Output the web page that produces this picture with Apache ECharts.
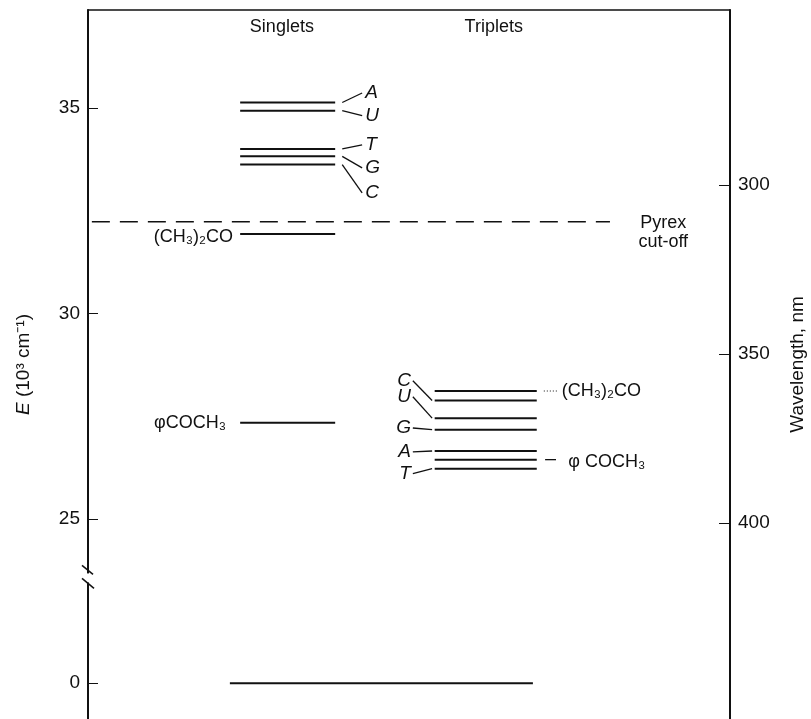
<!DOCTYPE html>
<html>
<head>
<meta charset="utf-8">
<script src="https://cdn.jsdelivr.net/npm/echarts@6/dist/echarts.min.js"></script>
<style>
  html, body { margin: 0; padding: 0; background: #fff; }
  #chart { width: 811px; height: 719px; }
</style>
</head>
<body>
<div id="chart"></div>
<script>
// energy levels, 10^3 cm^-1
const singletNames = ['A', 'U', 'T', 'G', 'C'];
const singletE = [35.13, 34.93, 34.0, 33.82, 33.62];
const singletLabelE = [35.36, 34.81, 34.1, 33.54, 32.93];
const tripletNames = ['C', 'U', 'G', 'A', 'T'];
const tripletE = [27.88, 27.45, 27.17, 26.65, 26.22];
const tripletLabelE = [28.36, 27.97, 27.21, 26.63, 26.1];
const acetoneE = [31.93, 28.11];       // singlet, triplet
const acetophenoneE = [27.34, 26.44];  // singlet, triplet
const pyrexE = 32.23;
const groundE = 0;
const leftTicks = [0, 25, 30, 35];
const rightTicks = [300, 350, 400];

// axis break: values below it are drawn shifted up
const SHIFT = 21;
const plotE = e => (e < 20 ? e + SHIFT : e);

const FONT = '"Liberation Sans", Arial, sans-serif';
const ink = '#111';

// x positions of the columns (0..100 across the frame)
const singletX = [23.7, 38.5];
const tripletX = [54.0, 69.9];
const groundX = [22.1, 69.3];

const levels = [];
singletE.forEach(e => levels.push([singletX[0], singletX[1], e]));
tripletE.forEach(e => levels.push([tripletX[0], tripletX[1], e]));
levels.push([singletX[0], singletX[1], acetoneE[0]]);
levels.push([tripletX[0], tripletX[1], acetoneE[1]]);
levels.push([singletX[0], singletX[1], acetophenoneE[0]]);
levels.push([tripletX[0], tripletX[1], acetophenoneE[1]]);
levels.push([groundX[0], groundX[1], plotE(groundE)]);

// connectors: [x0, e0, x1, e1, dotted]
const connectors = [];
singletE.forEach((e, i) => connectors.push([39.6, e, 42.7, singletLabelE[i], 0]));
tripletE.forEach((e, i) => connectors.push([50.6, tripletLabelE[i], 53.6, e, 0]));
connectors.push([71.0, acetoneE[1], 73.2, acetoneE[1], 1]);
connectors.push([71.2, acetophenoneE[1], 72.9, acetophenoneE[1], 0]);

// text labels
const labels = [];
singletNames.forEach((n, i) => labels.push({ x: 43.2, e: singletLabelE[i], text: n, align: 'left', italic: true, size: 19 }));
tripletNames.forEach((n, i) => labels.push({ x: 50.3, e: tripletLabelE[i], text: n, align: 'right', italic: true, size: 19 }));
labels.push({ x: 22.6, e: acetoneE[0] - 0.08, text: '(CH\u2083)\u2082CO', align: 'right' });
labels.push({ x: 21.5, e: acetophenoneE[0], text: '\u03c6COCH\u2083', align: 'right' });
labels.push({ x: 73.8, e: acetoneE[1], text: '(CH\u2083)\u2082CO', align: 'left' });
labels.push({ x: 74.8, e: acetophenoneE[1] - 0.05, text: '\u03c6 COCH\u2083', align: 'left' });
labels.push({ x: 30.2, e: 36.97, text: 'Singlets', align: 'center' });
labels.push({ x: 63.2, e: 36.97, text: 'Triplets', align: 'center' });
labels.push({ x: 89.6, e: 32.2, text: 'Pyrex', align: 'center' });
labels.push({ x: 89.6, e: 31.74, text: 'cut-off', align: 'center' });

const chart = echarts.init(document.getElementById('chart'));

const option = {
  animation: false,
  backgroundColor: '#fff',
  grid: { left: 88, right: 81, top: 10, bottom: 0, outerBoundsMode: 'none', containLabel: false },
  xAxis: {
    type: 'value', min: 0, max: 100, position: 'top',
    axisLine: { show: true, lineStyle: { color: ink, width: 1.5 } },
    axisTick: { show: false }, axisLabel: { show: false }, splitLine: { show: false }
  },
  yAxis: [
    {
      type: 'value', min: 20.13, max: 37.38, position: 'left',
      name: '{i|E} (10\u00b3 cm\u207b\u00b9)',
      nameLocation: 'middle', nameGap: 55, nameRotate: 90,
      nameTextStyle: {
        color: ink, fontSize: 19, fontFamily: FONT,
        rich: { i: { fontStyle: 'italic', fontSize: 19, fontFamily: FONT, color: ink } }
      },
      axisLine: { show: true, lineStyle: { color: ink, width: 2 } },
      axisTick: { show: true, inside: true, length: 10, customValues: leftTicks.map(plotE), lineStyle: { color: ink, width: 1 } },
      axisLabel: {
        customValues: leftTicks.map(plotE), margin: 8,
        color: ink, fontSize: 19, fontFamily: FONT,
        formatter: v => (v === plotE(0) ? '0' : String(v))
      },
      splitLine: { show: false }
    },
    {
      type: 'value', min: 248.2, max: 458, inverse: true, position: 'right',
      name: 'Wavelength, nm',
      nameLocation: 'middle', nameGap: 58, nameRotate: 90,
      nameTextStyle: { color: ink, fontSize: 19, fontFamily: FONT },
      axisLine: { show: true, lineStyle: { color: ink, width: 2 } },
      axisTick: { show: true, inside: true, length: 11, customValues: rightTicks, lineStyle: { color: ink, width: 1 } },
      axisLabel: { customValues: rightTicks, margin: 8, color: ink, fontSize: 19, fontFamily: FONT },
      splitLine: { show: false }
    }
  ],
  series: [
    {
      type: 'custom', name: 'levels', silent: true,
      data: levels,
      renderItem: (params, api) => {
        const a = api.coord([api.value(0), api.value(2)]);
        const b = api.coord([api.value(1), api.value(2)]);
        return { type: 'line', shape: { x1: a[0], y1: a[1], x2: b[0], y2: b[1] }, style: { stroke: ink, lineWidth: 2 } };
      }
    },
    {
      type: 'custom', name: 'pyrex', silent: true,
      data: [[0.6, 81.3, pyrexE]],
      renderItem: (params, api) => {
        const a = api.coord([api.value(0), api.value(2)]);
        const b = api.coord([api.value(1), api.value(2)]);
        return { type: 'line', shape: { x1: a[0], y1: a[1], x2: b[0], y2: b[1] }, style: { stroke: ink, lineWidth: 1.5, lineDash: [18, 10] } };
      }
    },
    {
      type: 'custom', name: 'connectors', silent: true,
      data: connectors,
      renderItem: (params, api) => {
        const a = api.coord([api.value(0), api.value(1)]);
        const b = api.coord([api.value(2), api.value(3)]);
        const dotted = api.value(4) === 1;
        return { type: 'line', shape: { x1: a[0], y1: a[1], x2: b[0], y2: b[1] }, style: { stroke: ink, lineWidth: dotted ? 1 : 1.3, lineDash: dotted ? [1, 2] : null } };
      }
    },
    {
      type: 'custom', name: 'labels', silent: true,
      data: labels.map(l => [l.x, l.e]),
      renderItem: (params, api) => {
        const l = labels[params.dataIndex];
        const p = api.coord([api.value(0), api.value(1)]);
        return {
          type: 'text', x: p[0], y: p[1],
          style: {
            text: l.text, fill: ink, fontSize: l.size || 18, fontFamily: FONT,
            fontStyle: l.italic ? 'italic' : 'normal',
            align: l.align, verticalAlign: 'middle'
          }
        };
      }
    },
    {
      // axis break marks on the left axis
      type: 'custom', name: 'break', silent: true,
      data: [[0, 23.55]],
      renderItem: (params, api) => {
        const p = api.coord([api.value(0), api.value(1)]);
        return {
          type: 'group',
          children: [
            { type: 'rect', shape: { x: p[0] - 3, y: p[1] - 5, width: 6, height: 9 }, style: { fill: '#fff' } },
            { type: 'line', shape: { x1: p[0] - 6, y1: p[1] - 13, x2: p[0] + 5, y2: p[1] - 4 }, style: { stroke: ink, lineWidth: 1.5 } },
            { type: 'line', shape: { x1: p[0] - 6, y1: p[1] + 0, x2: p[0] + 6, y2: p[1] + 10 }, style: { stroke: ink, lineWidth: 1.5 } }
          ]
        };
      }
    }
  ]
};

chart.setOption(option);
</script>
</body>
</html>
